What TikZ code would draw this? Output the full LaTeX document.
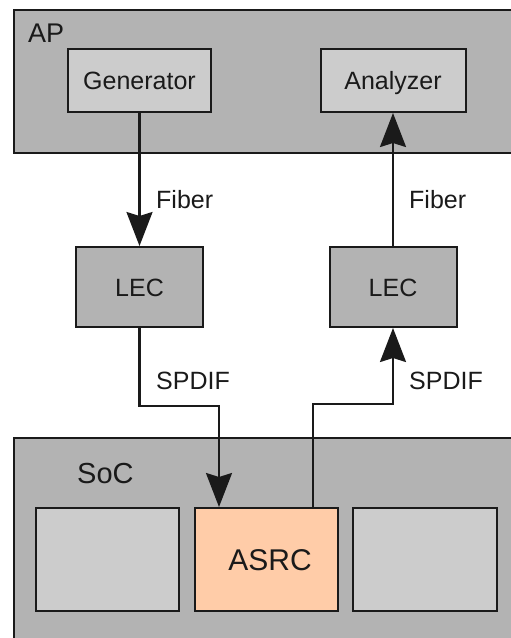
\documentclass[tikz,border=0pt]{standalone}
\usepackage{fontspec}
\setmainfont{Liberation Sans}
\usetikzlibrary{arrows.meta}
\definecolor{PanelGrey}{HTML}{B3B3B3}
\definecolor{BlockGrey}{HTML}{CCCCCC}
\definecolor{AsrcPeach}{HTML}{FFCCA8}
\definecolor{InkDark}{HTML}{1A1A1A}

\begin{document}
\begin{tikzpicture}[x=1pt,y=-1pt,
    every node/.style={font=\fontsize{25}{30}\selectfont,text=InkDark},
    panel/.style={draw=InkDark,fill=PanelGrey,line width=2pt,inner sep=0pt,anchor=north west},
    box/.style={draw=InkDark,line width=2pt,inner sep=0pt,text height=18pt,text depth=0pt},
    dev/.style={box,fill=BlockGrey,minimum width=143pt,minimum height=63pt},
    lec/.style={box,fill=PanelGrey,minimum width=127pt,minimum height=80pt},
    blk/.style={box,fill=BlockGrey,minimum width=143pt,minimum height=103pt},
    lbl/.style={anchor=west,inner sep=0pt},
    arr/.style={-{Stealth[length=34pt,width=26pt,inset=4pt]},InkDark,line width=2.2pt}
  ]
    \useasboundingbox (0,0) rectangle (511,638);
    \clip (0,0) rectangle (511,638);
    \node[panel,minimum width=540pt,minimum height=143pt] (ap) at (13,9) {};
    \node[lbl,font=\fontsize{27}{32}\selectfont] (aplbl) at (28,33) {AP};
    \node[dev] (gen) at (139.5,80.5) {Generator};
    \node[dev,minimum width=145pt] (ana) at (393,80.5) {Analyzer};
    \node[lec] (lecL) at (139.5,287) {LEC};
    \node[lec] (lecR) at (393,287) {LEC};
    \node[panel,minimum width=540pt,minimum height=240pt] (soc) at (13,437) {};
    \node[lbl,font=\fontsize{29}{34}\selectfont] (soclbl) at (77,474) {SoC};
    \node[blk] (blkL) at (107.5,559.5) {};
    \node[blk,fill=AsrcPeach,font=\fontsize{30}{36}\selectfont,text height=21.5pt,inner xsep=0pt] (asrc) at (266.5,559.5) {\hspace*{7pt}ASRC};
    \node[blk,minimum width=144pt] (blkR) at (425,559.5) {};
    \draw[arr] (gen) -- (lecL);
    \draw[arr] (lecL.south) -- ++(0,78) -| ([xshift=-47.5pt]asrc.north);
    \draw[arr] ([xshift=46.5pt]asrc.north) -- ++(0,-103) -| (lecR.south);
    \draw[arr] (lecR) -- (ana);
    \node[lbl] (fibL) at (156,200) {Fiber};
    \node[lbl] (fibR) at (409,200) {Fiber};
    \node[lbl] (spdL) at (156,381) {SPDIF};
    \node[lbl] (spdR) at (409,381) {SPDIF};
  \end{tikzpicture}
\end{document}
